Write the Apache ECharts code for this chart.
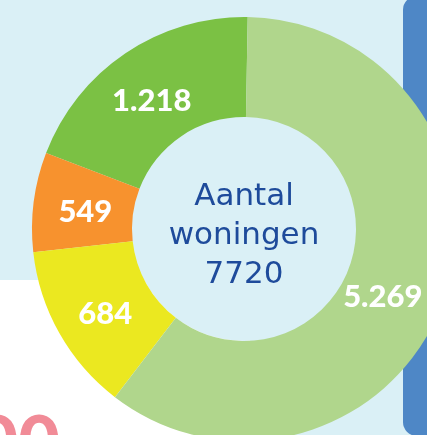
<!DOCTYPE html>
<html><head><meta charset="utf-8">
<script src="https://cdn.jsdelivr.net/npm/echarts@6/dist/echarts.min.js"></script>
<style>html,body{margin:0;padding:0;background:#daf0f6;}#c{width:427px;height:435px;}</style>
</head><body><div id="c"></div>
<script>
// Categories (colour groups) in counter-clockwise order from the top
var categories = ['groen', 'oranje', 'geel', 'lichtgroen'];
// Numbers printed on the slices
var values = [1218, 549, 684, 5269];
var valueLabels = ['1.218', '549', '684', '5.269'];
// Arc sizes as drawn in the reference (degrees of the ring)
var arcShares = [70, 27.3, 46.2, 216.5];
var centerLines = ['Aantal', 'woningen', '7720'];
var colors = ['#7bc144', '#f7922e', '#ebe820', '#b0d68c'];

var labelOffsets = [[0, 9], [5, 4], [5, 4], [-17, 14]];

var chart = echarts.init(document.getElementById('c'), null, {renderer: 'canvas'});
var data = categories.map(function (c, i) {
  return {name: c, value: arcShares[i], itemStyle: {color: colors[i]}, label: {offset: labelOffsets[i]}};
});
chart.setOption({
  animation: false,
  backgroundColor: '#daf0f6',
  graphic: [
    {type: 'rect', z: -10, shape: {x: 0, y: 280, width: 250, height: 160}, style: {fill: '#ffffff'}},
    {type: 'rect', z: -10, shape: {x: 403, y: -4, width: 60, height: 440, r: 14}, style: {fill: '#4e87c6'}},
    {type: 'text', z: -5, style: {text: '200', x: 60, y: 445, textAlign: 'right', textVerticalAlign: 'middle',
      font: '900 72px Lato', fill: '#f18b97'}},
    {type: 'circle', z: -5, shape: {cx: 244, cy: 229, r: 112}, style: {fill: '#daf0f6'}},
    {type: 'text', z: 10, style: {text: centerLines.join('\n'), x: 244, y: 236, textAlign: 'center', textVerticalAlign: 'middle',
      font: '31px "DejaVu Sans"', lineHeight: 39, fill: '#1e4b9b'}}
  ],
  series: [{
    type: 'pie',
    center: [244, 229],
    radius: [112, 212],
    startAngle: 89,
    clockwise: false,
    avoidLabelOverlap: false,
    label: {
      show: true,
      position: 'inside',
      color: '#ffffff',
      fontFamily: 'Lato',
      fontWeight: 900,
      fontSize: 31,
      formatter: function (p) { return valueLabels[p.dataIndex]; }
    },
    labelLine: {show: false},
    emphasis: {disabled: true},
    data: data
  }]
});
</script></body></html>
